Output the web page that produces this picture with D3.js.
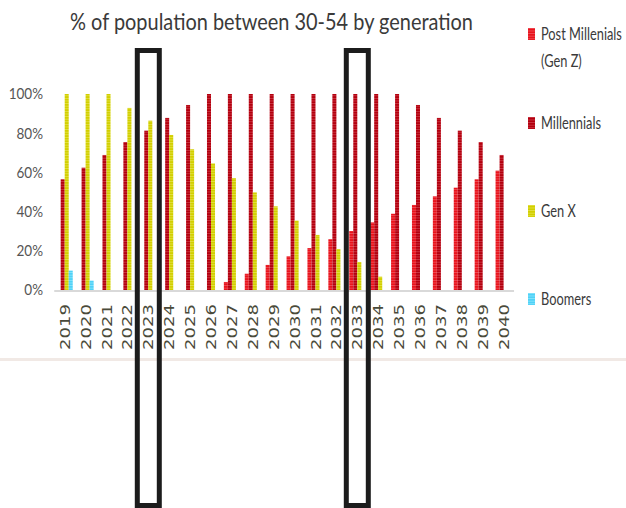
<!DOCTYPE html>
<html>
<head>
<meta charset="utf-8">
<script src="https://cdn.jsdelivr.net/npm/d3@7"></script>
<style>
  body { margin: 0; background: #ffffff; }
  svg { display: block; }
</style>
</head>
<body>
<svg id="chart" width="626" height="508"></svg>
<script>
// Share of the 30-54 population held by each generation, per year
const years = ["2019","2020","2021","2022","2023","2024","2025","2026","2027","2028","2029",
               "2030","2031","2032","2033","2034","2035","2036","2037","2038","2039","2040"];
const genZ        = [0, 0, 0, 0, 0, 0, 0, 0, 4.1, 8.3, 12.8, 17.2, 21.4, 25.9, 30.1, 34.5, 38.9, 43.4, 47.8, 52.2, 56.5, 60.9];
const millennials = [56.5, 62.4, 68.9, 75.5, 81.3, 87.8, 94.4, 100, 100, 100, 100, 100, 100, 100, 100, 100, 100, 94.4, 87.8, 81.3, 75.5, 68.9];
const genX        = [100, 100, 100, 92.9, 86.4, 79.1, 71.8, 64.6, 57.1, 49.8, 42.7, 35.4, 28.1, 20.9, 14.3, 6.8, 0, 0, 0, 0, 0, 0];
const boomers     = [9.9, 4.8, 0, 0, 0, 0, 0, 0, 0, 0, 0, 0, 0, 0, 0, 0, 0, 0, 0, 0, 0, 0];
const seriesKeys   = ["genZ", "millennials", "genX", "boomers"];
const seriesLabels = [["Post Millenials", "(Gen Z)"], ["Millennials"], ["Gen X"], ["Boomers"]];
const yTicks = [0, 20, 40, 60, 80, 100];
const highlightYears = ["2023", "2033"];
const titleText = "% of population between 30-54 by generation";

const seriesValues = { genZ, millennials, genX, boomers };
const colors  = { genZ: "#e8141c", millennials: "#b3000e", genX: "#d2cf00", boomers: "#4fd2f7" };
const stripes = { genZ: "#f4707a", millennials: "#d85a66", genX: "#ecea70", boomers: "#a8ecff" };

const svg = d3.select("#chart");

// Striped fills give the bars their fine horizontal texture
const defs = svg.append("defs");
seriesKeys.forEach(k => {
  const p = defs.append("pattern")
    .attr("id", "pat-" + k)
    .attr("patternUnits", "userSpaceOnUse")
    .attr("width", 4).attr("height", 2.6);
  p.append("rect").attr("width", 4).attr("height", 2.6).attr("fill", colors[k]);
  p.append("rect").attr("y", 1.9).attr("width", 4).attr("height", 0.7)
    .attr("fill", stripes[k]).attr("opacity", 0.75);
});

// Scales
const x = d3.scaleBand().domain(years).range([54.25, 514.05]).paddingInner(0.23).paddingOuter(0.115);
const xs = d3.scaleBand().domain(seriesKeys).range([0, x.bandwidth()]);
const y = d3.scaleLinear().domain([0, 100]).range([290, 94]);

// Compress text horizontally by a given factor
function squeeze(sel, k) {
  sel.each(function () {
    const w = this.getComputedTextLength();
    d3.select(this).attr("textLength", w * k).attr("lengthAdjust", "spacingAndGlyphs");
  });
}
function fitWidth(sel, target) {
  sel.attr("textLength", target).attr("lengthAdjust", "spacingAndGlyphs");
}

// Title
const title = svg.append("text")
  .attr("x", 271.5).attr("y", 29.5)
  .attr("text-anchor", "middle")
  .attr("font-family", "Lato, 'Open Sans', sans-serif")
  .attr("font-size", 24)
  .attr("fill", "#3a3a3a")
  .text(titleText);
fitWidth(title, 403);

// Faint rule below the chart area
svg.append("line")
  .attr("x1", 0).attr("x2", 626).attr("y1", 359.5).attr("y2", 359.5)
  .attr("stroke", "#f1e9e5").attr("stroke-width", 3);

// Y axis labels (no axis line)
const yAxis = svg.append("g")
  .attr("transform", "translate(43,0)")
  .call(d3.axisLeft(y).tickValues(yTicks).tickFormat(d => d + "%").tickSize(0).tickPadding(0));
yAxis.select(".domain").remove();
yAxis.selectAll("text")
  .attr("font-family", "Lato, 'Open Sans', sans-serif")
  .attr("font-size", 15)
  .attr("fill", "#555555");
squeeze(yAxis.selectAll("text"), 0.9);

// Bars
const rows = years.map((yr, i) => ({ year: yr, values: seriesKeys.map(k => ({ key: k, value: seriesValues[k][i] })) }));
const groups = svg.append("g").selectAll("g")
  .data(rows).join("g")
  .attr("transform", d => `translate(${x(d.year)},0)`);
groups.selectAll("rect")
  .data(d => d.values.filter(v => v.value > 0))
  .join("rect")
  .attr("x", d => xs(d.key))
  .attr("width", xs.bandwidth())
  .attr("y", d => y(d.value))
  .attr("height", d => y(0) - y(d.value))
  .attr("fill", d => `url(#pat-${d.key})`);

// Baseline
svg.append("line")
  .attr("x1", x.range()[0]).attr("x2", x.range()[1])
  .attr("y1", y(0) + 1).attr("y2", y(0) + 1)
  .attr("stroke", "#d9d9d9").attr("stroke-width", 2);

// Rotated year labels
const xAxis = svg.append("g")
  .attr("transform", `translate(0,${y(0)})`)
  .call(d3.axisBottom(x).tickSize(0).tickPadding(0));
xAxis.select(".domain").remove();
xAxis.selectAll("text")
  .attr("font-family", "'DejaVu Sans', Verdana, sans-serif")
  .attr("font-size", 14)
  .attr("fill", "#4a4a3a")
  .attr("text-anchor", "end")
  .attr("dy", null)
  .attr("transform", "translate(5,14) rotate(-90)");
fitWidth(xAxis.selectAll("text"), 46);

// Highlight frames around selected years
svg.append("g").selectAll("rect")
  .data(highlightYears).join("rect")
  .attr("x", d => x(d) + x.bandwidth() / 2 - 11)
  .attr("width", 22)
  .attr("y", 50.5)
  .attr("height", 455)
  .attr("fill", "none")
  .attr("stroke", "#1c1c1c")
  .attr("stroke-width", 5);

// Legend: markers, then labels in a horizontally condensed group
const legendY = [34, 123, 211, 299];
const legend = svg.append("g").selectAll("g")
  .data(seriesKeys).join("g")
  .attr("transform", (d, i) => `translate(528,${legendY[i]})`);
legend.append("rect")
  .attr("x", 0).attr("y", -6).attr("width", 7).attr("height", 12)
  .attr("fill", d => `url(#pat-${d})`);
const labelGroups = legend.append("g");
labelGroups.each(function (d, i) {
  const g = d3.select(this);
  seriesLabels[i].forEach((line, j) => {
    g.append("text")
      .attr("x", 0).attr("y", 6 + j * 27)
      .attr("font-family", "Lato, 'Open Sans', sans-serif")
      .attr("font-size", 17)
      .attr("fill", "#3a3a3a")
      .text(line);
  });
});
// Condense every label by the factor that lets the longest one fit the margin
const longest = d3.max(labelGroups.selectAll("text").nodes(), n => n.getComputedTextLength());
labelGroups.attr("transform", `translate(13,0) scale(${81 / longest},1)`);
</script>
</body>
</html>
